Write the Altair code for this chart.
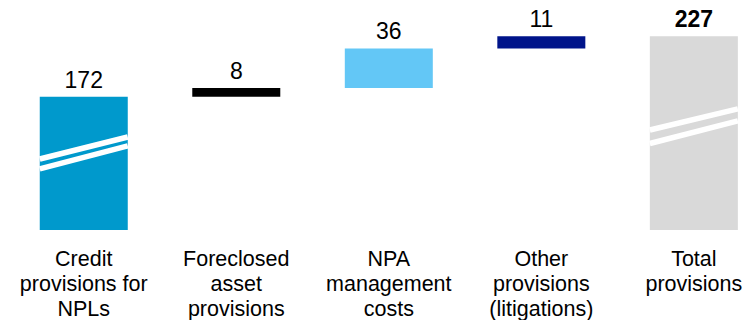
import altair as alt
import pandas as pd

categories = ["Credit|provisions for|NPLs", "Foreclosed|asset|provisions", "NPA|management|costs",
              "Other|provisions|(litigations)", "Total|provisions"]
values = [172, 8, 36, 11, 227]
tops = [172, 180, 216, 227, 227]
bottoms = [None, 172, 180, 216, None]
axis_floor = 51
axis_ceiling = 260
colors = ["#0099CC", "#000000", "#63C7F6", "#00148A", "#D9D9D9"]
bold = [False, False, False, False, True]

# axis-break marks (data units at bar left / right edges)
break_cats = [categories[0], categories[0], categories[4], categories[4]]
break_left = [115.5, 106.5, 141.9, 129.6]
break_right = [135.5, 127.4, 161.0, 150.1]

df = pd.DataFrame({
    "cat": categories,
    "value": values,
    "top": tops,
    "bottom": [b if b is not None else axis_floor for b in bottoms],
    "color": colors,
    "bold": bold,
})
brk = pd.DataFrame({"cat": break_cats, "yl": break_left, "yr": break_right})

FONT = "Liberation Sans"

x = alt.X("cat:N", sort=categories, title=None,
          scale=alt.Scale(paddingInner=0.423, paddingOuter=0.157, align=0.83),
          axis=alt.Axis(labelExpr="split(datum.label, '|')", labelAngle=0, ticks=False, domain=False,
                        labelFontSize=21.5, labelLineHeight=25, labelFont=FONT, labelColor="#000000",
                        labelPadding=18, labelBaseline="top", grid=False))
y_scale = alt.Scale(domain=[axis_floor, axis_ceiling], nice=False, zero=False)

bars = alt.Chart(df).mark_bar().encode(
    x=x,
    y=alt.Y("top:Q", scale=y_scale, axis=None),
    y2="bottom:Q",
    color=alt.Color("color:N", scale=None),
)

breaks = alt.Chart(brk).mark_rule(color="white", strokeWidth=5.5).encode(
    x=alt.X("cat:N", sort=categories, bandPosition=0),
    x2=alt.X2("cat:N", bandPosition=1),
    y=alt.Y("yl:Q", scale=y_scale),
    y2="yr:Q",
)

labels = alt.Chart(df).transform_filter("!datum.bold").mark_text(
    baseline="alphabetic", dy=-9, fontSize=23, font=FONT, color="#000000"
).encode(x=alt.X("cat:N", sort=categories), y=alt.Y("top:Q", scale=y_scale), text="value:Q")

labels_b = alt.Chart(df).transform_filter("datum.bold").mark_text(
    baseline="alphabetic", dy=-9, fontSize=23, font=FONT, color="#000000", fontWeight="bold"
).encode(x=alt.X("cat:N", sort=categories), y=alt.Y("top:Q", scale=y_scale), text="value:Q")

chart = alt.layer(bars, breaks, labels, labels_b).properties(
    width=746, height=230,
    autosize=alt.AutoSizeParams(type="none"),
    padding={"left": 0, "top": 0, "right": 0, "bottom": 90},
).configure_view(stroke=None)

chart.save("out.html", embed_options={"renderer": "svg", "actions": False})
